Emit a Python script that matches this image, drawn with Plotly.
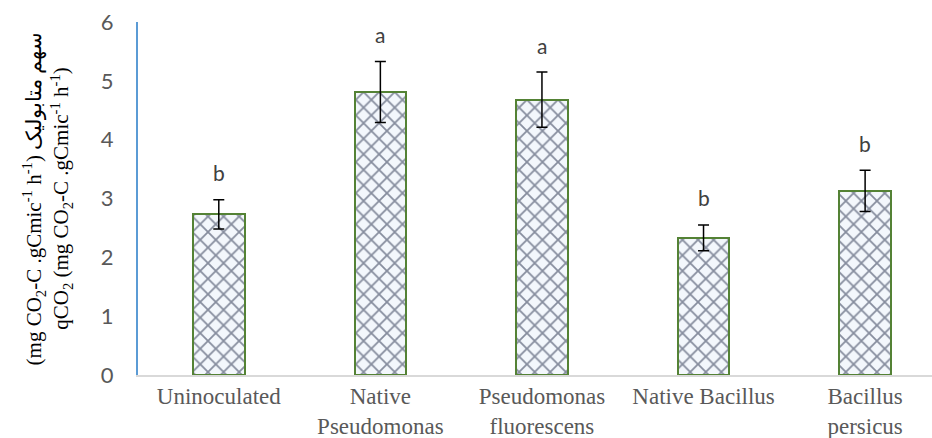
import plotly.graph_objects as go

categories = ["Uninoculated", "Native<br>Pseudomonas", "Pseudomonas<br>fluorescens",
              "Native Bacillus", "Bacillus<br>persicus"]
values = [2.73, 4.81, 4.68, 2.33, 3.13]
errors = [0.25, 0.52, 0.47, 0.22, 0.35]
letters = ["b", "a", "a", "b", "b"]
y_ticks = [0, 1, 2, 3, 4, 5, 6]

fig = go.Figure()
fig.add_trace(go.Bar(
    x=categories, y=values, width=0.319,
    marker=dict(color="#F3F7FC",
                line=dict(color="#548235", width=2),
                pattern=dict(shape="x", fgcolor="#1A2340", bgcolor="#F3F7FC",
                             size=11, solidity=0.3)),
    error_y=dict(type="data", array=errors, visible=True,
                 color="#000000", thickness=1.5, width=5.5),
    showlegend=False,
))

for c, v, e, t in zip(categories, values, errors, letters):
    fig.add_annotation(x=c, y=v + e, text=t, showarrow=False,
                       yanchor="middle", yshift=27,
                       font=dict(family="Lato", size=21, color="#404040"))

fig.update_layout(
    width=932, height=438,
    margin=dict(l=138, r=0, t=22, b=63, autoexpand=False),
    paper_bgcolor="white", plot_bgcolor="white",
    bargap=0,
)
fig.update_xaxes(
    range=[-0.5, 4.414], showline=True, linecolor="#D9D9D9", linewidth=1.5,
    showgrid=False, ticks="", automargin=False,
    tickfont=dict(family="Liberation Serif", size=23, color="#595959"),
)
fig.update_yaxes(
    range=[0, 6], tickvals=y_ticks, showline=True, linecolor="#5B9BD5", linewidth=2,
    showgrid=False, zeroline=False, ticks="", automargin=False,
    ticklabelstandoff=18,
    tickfont=dict(family="Lato", size=22, color="#595959"),
    title=dict(
        text="(mg CO<sub>2</sub>-C .gCmic<sup>-1</sup> h<sup>-1</sup>) سهم متابولیک<br>"
             "qCO<sub>2</sub> (mg CO<sub>2</sub>-C .gCmic<sup>-1</sup> h<sup>-1</sup>)",
        font=dict(family="Liberation Serif", size=21, color="#000000"),
        standoff=26,
    ),
)

fig.write_html("out.html", config={"displayModeBar": False},
               post_script="document.body.style.margin='0px';")
